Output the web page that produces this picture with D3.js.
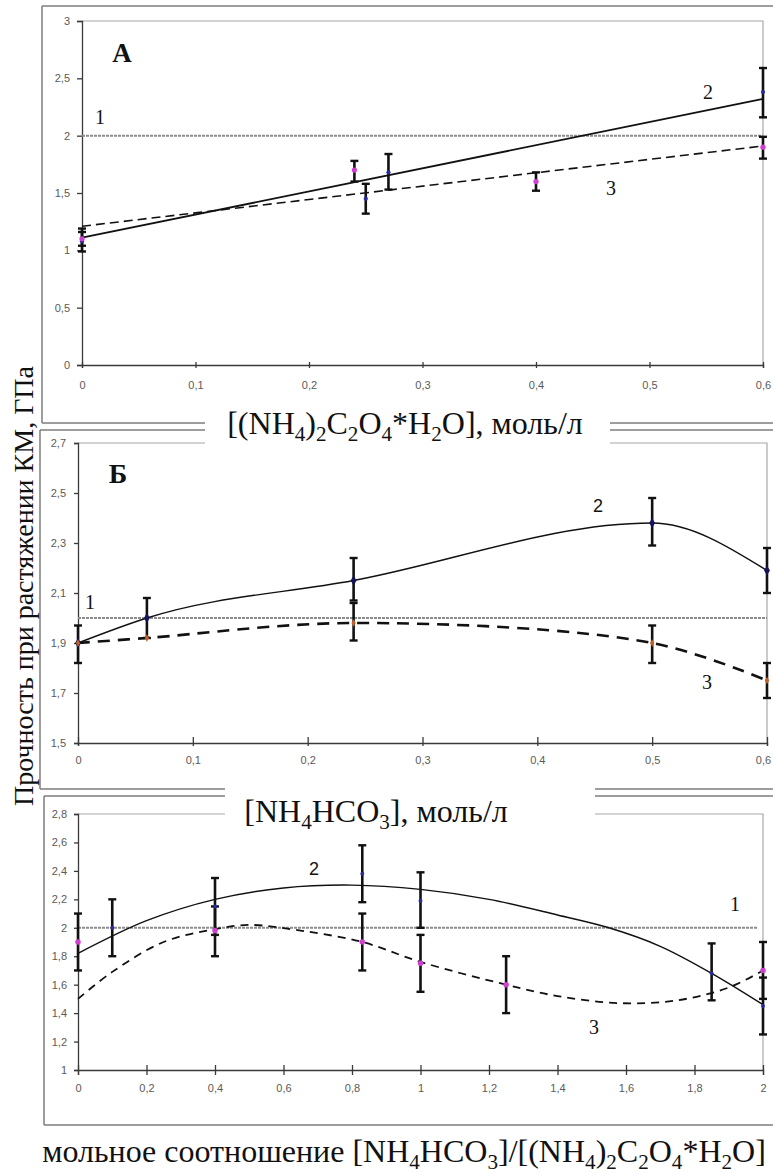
<!DOCTYPE html>
<html>
<head>
<meta charset="utf-8">
<script src="https://cdn.jsdelivr.net/npm/d3@7"></script>
<style>
  body { margin: 0; background: #fff; }
  svg { display: block; }
</style>
</head>
<body>
<svg id="chart" width="773" height="1173"></svg>
<script>
// --- data ---
var levelOne = 2;   // reference line "1"

// panel A
var xTicksA = [0, 0.1, 0.2, 0.3, 0.4, 0.5, 0.6];
var yTicksA = [0, 0.5, 1, 1.5, 2, 2.5, 3];
// [x, value, lower, upper]
var pointsA2 = [[0, 1.08, 0.99, 1.16], [0.25, 1.45, 1.32, 1.58], [0.27, 1.68, 1.53, 1.84], [0.6, 2.38, 2.16, 2.59]];
var pointsA3 = [[0, 1.1, 1.04, 1.19], [0.24, 1.7, 1.6, 1.78], [0.4, 1.6, 1.52, 1.68], [0.6, 1.9, 1.8, 1.99]];
var trendA2 = [[0, 1.11], [0.6, 2.32]];
var trendA3 = [[0, 1.21], [0.6, 1.91]];

// panel B
var xTicksB = [0, 0.1, 0.2, 0.3, 0.4, 0.5, 0.6];
var yTicksB = [1.5, 1.7, 1.9, 2.1, 2.3, 2.5, 2.7];
var pointsB2 = [[0, 1.9, 1.82, 1.97], [0.06, 2.0, 1.92, 2.08], [0.24, 2.15, 2.07, 2.24], [0.5, 2.38, 2.29, 2.48], [0.6, 2.19, 2.1, 2.28]];
var pointsB3 = [[0, 1.9, null, null], [0.06, 1.92, null, null], [0.24, 1.98, 1.91, 2.06], [0.5, 1.9, 1.82, 1.97], [0.6, 1.75, 1.68, 1.82]];

// panel C
var xTicksC = [0, 0.2, 0.4, 0.6, 0.8, 1, 1.2, 1.4, 1.6, 1.8, 2];
var yTicksC = [1, 1.2, 1.4, 1.6, 1.8, 2, 2.2, 2.4, 2.6, 2.8];
var pointsC2 = [[0.1, 2.0, 1.8, 2.2], [0.4, 2.15, 1.95, 2.35], [0.83, 2.38, 2.18, 2.58], [1.0, 2.19, 2.0, 2.39], [1.85, 1.68, 1.49, 1.89], [2.0, 1.45, 1.25, 1.65]];
var pointsC3 = [[0, 1.9, 1.7, 2.1], [0.4, 1.98, 1.8, 2.15], [0.83, 1.9, 1.7, 2.1], [1.0, 1.75, 1.55, 1.95], [1.25, 1.6, 1.4, 1.8], [2.0, 1.7, 1.5, 1.9]];
var trendC2 = [[0, 1.82], [0.2, 2.05], [0.4, 2.2], [0.6, 2.28], [0.8, 2.3], [1.0, 2.27], [1.2, 2.2], [1.4, 2.09], [1.55, 2.0], [1.7, 1.87], [1.85, 1.68], [2.0, 1.46]];
var trendC3 = [[0, 1.5], [0.1, 1.69], [0.25, 1.9], [0.4, 1.99], [0.5, 2.02], [0.65, 1.98], [0.83, 1.9], [1.0, 1.76], [1.25, 1.6], [1.4, 1.52], [1.58, 1.47], [1.75, 1.49], [1.9, 1.58], [2.0, 1.7]];

var yTitle = "Прочность при растяжении КМ, ГПа";
var xTitleA = "[(NH_4)_2C_2O_4*H_2O], моль/л";
var xTitleB = "[NH_4HCO_3], моль/л";
var xTitleC = "мольное соотношение [NH_4HCO_3]/[(NH_4)_2C_2O_4*H_2O]";

// --- drawing ---
var svg = d3.select("#chart");
var SERIF = "'Liberation Serif', 'Times New Roman', serif";
var SANS = "'Liberation Sans', Arial, sans-serif";
var fmt = function(v) { return String(v).replace(".", ","); };

function line(x1, y1, x2, y2, color, w) {
    svg.append("line").attr("x1", x1).attr("y1", y1).attr("x2", x2).attr("y2", y2)
        .attr("stroke", color).attr("stroke-width", w);
}

// outer frames (drawn first, label boxes cover parts of them)
var frame = "#7c7c7c";
line(42, 6, 773, 6, frame, 1.5);
line(42, 6, 42, 423, frame, 1.5);
line(42, 423, 773, 423, frame, 1.5);
line(40, 430, 773, 430, frame, 1.5);
line(40, 430, 40, 789, frame, 1.5);
line(40, 789, 773, 789, frame, 1.5);
line(44, 796, 773, 796, frame, 1.5);
line(44, 796, 44, 1125, frame, 1.5);
line(44, 1125, 773, 1125, frame, 1.5);

function panel(p) {
    var x = d3.scaleLinear().domain(p.xDomain).range(p.xRange);
    var y = d3.scaleLinear().domain(p.yDomain).range(p.yRange);
    var g = svg.append("g");

    // plot area border, top and right
    g.append("path")
        .attr("d", "M" + p.xRange[0] + "," + p.yRange[1] + "H" + p.xRange[1] + "V" + p.yRange[0])
        .attr("fill", "none").attr("stroke", "#a8a8a8").attr("stroke-width", 1.2);

    var xa = g.append("g").attr("transform", "translate(0," + p.yRange[0] + ")")
        .call(d3.axisBottom(x).tickValues(p.xTicks).tickFormat(fmt)
            .tickSizeOuter(0).tickSize(p.xTick[1]).tickPadding(p.xTick[2]));
    xa.selectAll(".tick line").attr("y1", -p.xTick[0]);
    var ya = g.append("g").attr("transform", "translate(" + p.xRange[0] + ",0)")
        .call(d3.axisLeft(y).tickValues(p.yTicks).tickFormat(fmt)
            .tickSizeOuter(0).tickSize(p.yTick[0]).tickPadding(p.yTick[1]));
    [xa, ya].forEach(function(a) {
        a.select(".domain").attr("stroke", "#3a3a3a").attr("stroke-width", 1.3);
        a.selectAll(".tick line").attr("stroke", "#3a3a3a").attr("stroke-width", 1.3);
        a.selectAll(".tick text").attr("font-family", SANS).attr("font-size", 11).attr("fill", "#5a5a5a");
    });
    // last x label sits on the right edge; keep it inside the picture
    if (p.lastLabelShift) xa.select(".tick:last-of-type text").attr("dx", p.lastLabelShift);

    // reference line 1
    g.append("line")
        .attr("x1", p.xRange[0]).attr("x2", p.lineEnd)
        .attr("y1", y(levelOne)).attr("y2", y(levelOne))
        .attr("stroke", "#8c8c8c").attr("stroke-width", 2).attr("stroke-dasharray", "3 1");

    var gen = d3.line().x(function(d) { return x(d[0]); }).y(function(d) { return y(d[1]); });
    p.curves.forEach(function(c) {
        g.append("path").datum(c.data)
            .attr("d", gen.curve(c.curve)(c.data))
            .attr("fill", "none").attr("stroke", "#111")
            .attr("stroke-width", c.width)
            .attr("stroke-dasharray", c.dash || null);
    });

    // error bars
    p.series.forEach(function(s) {
        s.data.filter(function(d) { return d[2] != null; }).forEach(function(d) {
            var cx = x(d[0]);
            g.append("line").attr("x1", cx).attr("x2", cx).attr("y1", y(d[2])).attr("y2", y(d[3]))
                .attr("stroke", "#111").attr("stroke-width", 2.6);
            [d[2], d[3]].forEach(function(v) {
                g.append("line").attr("x1", cx - 4).attr("x2", cx + 4).attr("y1", y(v)).attr("y2", y(v))
                    .attr("stroke", "#111").attr("stroke-width", 2.4);
            });
        });
    });
    // markers
    p.series.forEach(function(s) {
        g.selectAll(null).data(s.data).enter().append("path")
            .attr("transform", function(d) { return "translate(" + x(d[0]) + "," + y(d[1]) + ")"; })
            .attr("d", d3.symbol().type(s.symbol).size(s.size))
            .attr("fill", s.color);
    });

    // labels
    p.labels.forEach(function(l) {
        g.append("text").attr("x", l[1]).attr("y", l[2]).attr("text-anchor", "middle")
            .attr("font-family", l[4] || SERIF).attr("font-size", l[3])
            .attr("font-weight", l[5] || "normal").attr("fill", "#111").text(l[0]);
    });
}

panel({
    xDomain: [0, 0.6], xRange: [82, 763], yDomain: [0, 3], yRange: [365, 21],
    xTicks: xTicksA, yTicks: yTicksA, xTick: [3, 3, 13], yTick: [5, 7], lineEnd: 763,
    curves: [
        { data: trendA2, curve: d3.curveLinear, width: 1.8 },
        { data: trendA3, curve: d3.curveLinear, width: 1.6, dash: "9 5" }
    ],
    series: [
        { data: pointsA2, color: "#2a2a9a", symbol: d3.symbolCircle, size: 14 },
        { data: pointsA3, color: "#d040d0", symbol: d3.symbolCircle, size: 22 }
    ],
    labels: [["A", 122, 62, 27, SERIF, "bold"], ["1", 100, 124, 20], ["2", 708, 99, 20], ["3", 611, 195, 20]]
});

panel({
    xDomain: [0, 0.6], xRange: [78, 767], yDomain: [1.5, 2.7], yRange: [743, 443],
    xTicks: xTicksB, yTicks: yTicksB, xTick: [6, 3, 10], yTick: [4, 8], lineEnd: 767,
    lastLabelShift: -4,
    curves: [
        { data: pointsB2, curve: d3.curveMonotoneX, width: 1.4 },
        { data: pointsB3, curve: d3.curveCatmullRom, width: 2.6, dash: "12 8" }
    ],
    series: [
        { data: pointsB2, color: "#14145a", symbol: d3.symbolDiamond, size: 30 },
        { data: pointsB3, color: "#c0602a", symbol: d3.symbolDiamond, size: 16 }
    ],
    labels: [["Б", 118, 483, 28, SERIF, "bold"], ["1", 90, 609, 20], ["2", 598, 512, 18, SANS], ["3", 707, 689, 20]]
});

panel({
    xDomain: [0, 2], xRange: [78, 763], yDomain: [1, 2.8], yRange: [1070, 814],
    xTicks: xTicksC, yTicks: yTicksC, xTick: [5, 5, 9], yTick: [4, 7], lineEnd: 757,
    curves: [
        { data: trendC2, curve: d3.curveCatmullRom, width: 1.4 },
        { data: trendC3, curve: d3.curveCatmullRom, width: 1.8, dash: "8 6" }
    ],
    series: [
        { data: pointsC2, color: "#2a2a9a", symbol: d3.symbolCircle, size: 12 },
        { data: pointsC3, color: "#d040d0", symbol: d3.symbolCircle, size: 24 }
    ],
    labels: [["1", 735, 911, 20], ["2", 314, 875, 18, SANS], ["3", 594, 1034, 20]]
});

// text with subscripts: "_4" marks a subscript digit
function richText(str, cx, by, size) {
    var t = svg.append("text").attr("x", cx).attr("y", by).attr("text-anchor", "middle")
        .attr("font-family", SERIF).attr("font-size", size).attr("fill", "#111");
    var shift = Math.round(size * 0.22);
    var down = false;
    str.split(/(_\d)/).forEach(function(part) {
        if (!part) return;
        if (part[0] === "_") {
            t.append("tspan").attr("dy", down ? 0 : shift).attr("font-size", size * 0.66).text(part.slice(1));
            down = true;
        } else {
            t.append("tspan").attr("dy", down ? -shift : 0).text(part);
            down = false;
        }
    });
    return t;
}

// white boxes behind the x titles of A and B
svg.append("rect").attr("x", 205).attr("y", 398).attr("width", 405).attr("height", 49).attr("fill", "#fff");
svg.append("rect").attr("x", 225).attr("y", 772).attr("width", 370).attr("height", 47).attr("fill", "#fff");

richText(xTitleA, 405, 434, 32);
richText(xTitleB, 376, 822, 32);
richText(xTitleC, 404, 1162, 32);

svg.append("text")
    .attr("transform", "translate(33,586) rotate(-90)")
    .attr("text-anchor", "middle")
    .attr("font-family", SERIF).attr("font-size", 28).attr("fill", "#111")
    .text(yTitle);
</script>
</body>
</html>
